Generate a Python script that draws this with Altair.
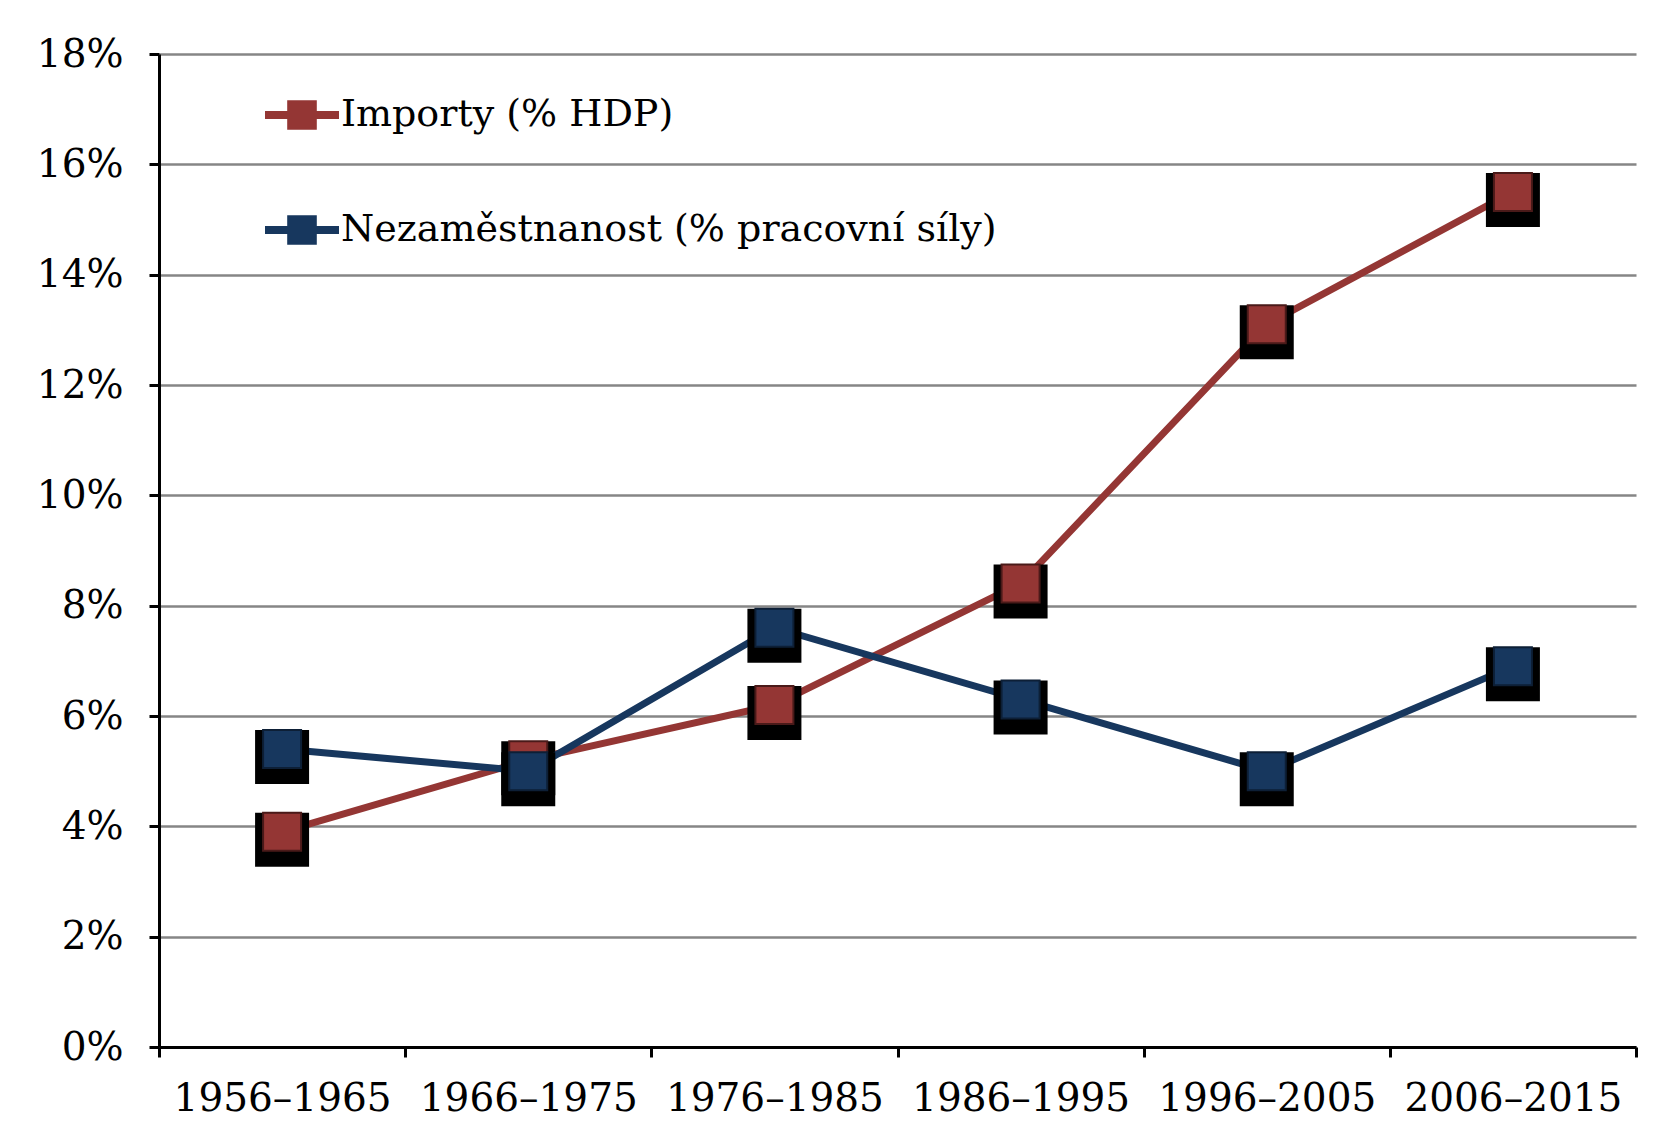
import altair as alt
import pandas as pd

periods = ["1956–1965", "1966–1975", "1976–1985", "1986–1995", "1996–2005", "2006–2015"]
imports = [3.9, 5.2, 6.2, 8.4, 13.1, 15.5]
unemployment = [5.4, 5.0, 7.6, 6.3, 5.0, 6.9]
series_names = ["Importy (% HDP)", "Nezaměstnanost (% pracovní síly)"]
colors = ["#943634", "#17375E"]
edge_colors = ["#4A1A19", "#0D1F36"]
y_ticks = [0, 0.02, 0.04, 0.06, 0.08, 0.10, 0.12, 0.14, 0.16, 0.18]

rows = []
for name, vals in zip(series_names, [imports, unemployment]):
    for p, v in zip(periods, vals):
        rows.append({"period": p, "value": v / 100, "series": name})
df = pd.DataFrame(rows)

FONT = "DejaVu Serif"

x_enc = alt.X(
    "period:N",
    sort=periods,
    bandPosition=0.5,
    scale=alt.Scale(type="band", paddingInner=0, paddingOuter=0),
    axis=alt.Axis(
        title=None, labelAngle=0, tickBand="extent", grid=False,
        domainColor="black", domainWidth=3, tickColor="black", tickWidth=3,
        tickSize=10, labelFont=FONT, labelFontSize=39, labelColor="black",
        labelPadding=22, labelLimit=1000, labelOverlap=False,
    ),
)
y_enc = alt.Y(
    "value:Q",
    scale=alt.Scale(domain=[0, 0.18], nice=False),
    axis=alt.Axis(
        title=None, values=y_ticks, format=".0%", grid=True,
        gridColor="#868686", gridWidth=2.5, domainColor="black", domainWidth=3,
        tickColor="black", tickWidth=3, tickSize=10, labelFont=FONT,
        labelFontSize=39, labelColor="black", labelPadding=26,
    ),
)

legend = alt.Legend(
    title=None, orient="none", legendX=106, legendY=24,
    symbolType="M-1,-0.11H1V0.11H-1Z M-0.4,-0.4H0.4V0.4H-0.4Z",
    symbolSize=5476, symbolStrokeWidth=0, labelFont=FONT, labelFontSize=38,
    labelColor="black", labelOffset=2, rowPadding=59, labelLimit=900,
)
fill_enc = alt.Fill(
    "series:N",
    scale=alt.Scale(domain=series_names, range=colors),
    legend=legend,
)

base = alt.Chart(df)
layers = []
for name, col, edge in zip(series_names, colors, edge_colors):
    sub = base.transform_filter(alt.datum.series == name)
    line = sub.mark_line(color=col, strokeWidth=7).encode(x=x_enc, y=y_enc)
    shadow = sub.mark_point(
        shape="square", filled=True, size=54 * 54, color="black",
        opacity=1, yOffset=8, xOffset=0,
    ).encode(x=x_enc, y=y_enc)
    marker = sub.mark_point(
        shape="square", filled=True, size=38 * 38, stroke=edge,
        strokeWidth=2, opacity=1, fillOpacity=1,
    ).encode(x=x_enc, y=y_enc, fill=fill_enc)
    layers += [line, shadow, marker]

chart = alt.layer(*layers).properties(
    width=1477, height=993,
    autosize=alt.AutoSizeParams(type="none"),
    padding={"left": 151, "top": 46, "right": 12, "bottom": 80},
    background="white",
).configure_view(stroke=None)

chart.save("out.html", embed_options={"renderer": "svg", "actions": False})
